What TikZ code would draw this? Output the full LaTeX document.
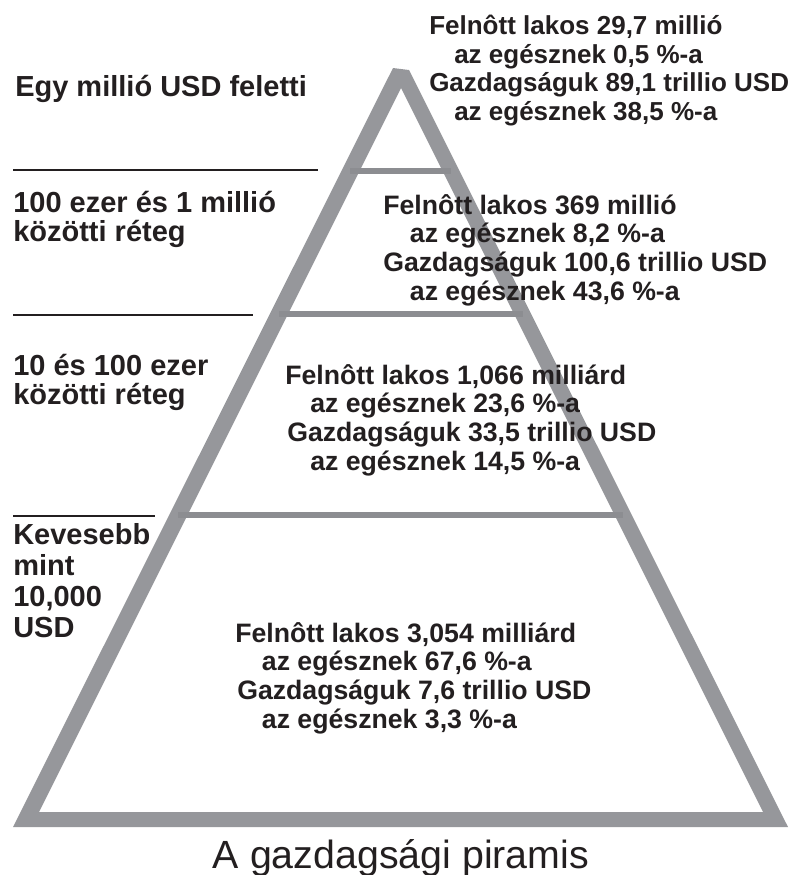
\documentclass[tikz,border=0pt]{standalone}
\usepackage{fontspec}
\setmainfont{Liberation Sans}
\usetikzlibrary{positioning}
\definecolor{pyrgray}{RGB}{150,151,155}
\definecolor{bargray}{RGB}{140,141,145}
\definecolor{ink}{RGB}{35,31,32}

\begin{document}
\begin{tikzpicture}[x=0.75pt, y=-0.75pt,
  tier/.style={anchor=base west, inner sep=0pt, align=left, text=ink,
               font=\bfseries\fontsize{21.75}{21.75}\selectfont},
  stats/.style={anchor=base west, inner sep=0pt, align=left, text=ink,
                font=\bfseries\fontsize{20}{21.4}\selectfont},
  divider/.style={bargray, line width=4.5pt},
  rule/.style={ink, line width=1.1pt},
  titletext/.style={anchor=base, inner sep=0pt, text=ink,
                    font=\fontsize{29.5}{30}\selectfont}
]
\useasboundingbox (0,0) rectangle (793,875);

% pyramid outline and the three band dividers
\fill[pyrgray, even odd rule] (13,827) -- (788,827) -- (409,70) -- (393,68) -- cycle
  (39,812) -- (763,812) -- (401,88) -- cycle;
\draw[divider] (350,171) -- (451,171);
\draw[divider] (279,314) -- (523,314);
\draw[divider] (178,515) -- (623,515);

% rules under the left labels
\draw[rule] (13,170) -- (318,170);
\draw[rule] (13,315) -- (253,315);
\draw[rule] (13,516) -- (155,516);

% left: wealth bands (base = last line)
\node[tier] (band1) at (15,96) {Egy millió USD feletti};
\node[tier] (band2) at (13,241) {100 ezer és 1 millió\\közötti réteg};
\node[tier] (band3) at (13,404) {10 és 100 ezer\\közötti réteg};
\node[tier, font=\bfseries\fontsize{21.75}{23.25}\selectfont] (band4) at (13,637)
  {Kevesebb\\mint\\10,000\\USD};

% right: figures per band
\node[stats, font=\bfseries\fontsize{19.5}{21.3}\selectfont] (stats1) at (429,120)
  {Felnôtt lakos 29,7 millió\\
  \hspace*{18.75pt}az egésznek 0,5 \%-a\\
  Gazdagságuk 89,1 trillio USD\\
  \hspace*{18.75pt}az egésznek 38,5 \%-a};
\node[stats] (stats2) at (383,300) {Felnôtt lakos 369 millió\\
  \hspace*{20pt}az egésznek 8,2 \%-a\\
  Gazdagságuk 100,6 trillio USD\\
  \hspace*{20pt}az egésznek 43,6 \%-a};
\node[stats] (stats3) at (285,470) {Felnôtt lakos 1,066 milliárd\\
  \hspace*{18.75pt}az egésznek 23,6 \%-a\\
  \hspace*{1.5pt}Gazdagságuk 33,5 trillio USD\\
  \hspace*{18.75pt}az egésznek 14,5 \%-a};
\node[stats] (stats4) at (235,728) {Felnôtt lakos 3,054 milliárd\\
  \hspace*{20pt}az egésznek 67,6 \%-a\\
  \hspace*{1.5pt}Gazdagságuk 7,6 trillio USD\\
  \hspace*{20pt}az egésznek 3,3 \%-a};

\node[titletext] (title) at (401,868) {A gazdagsági piramis};
\end{tikzpicture}
\end{document}
